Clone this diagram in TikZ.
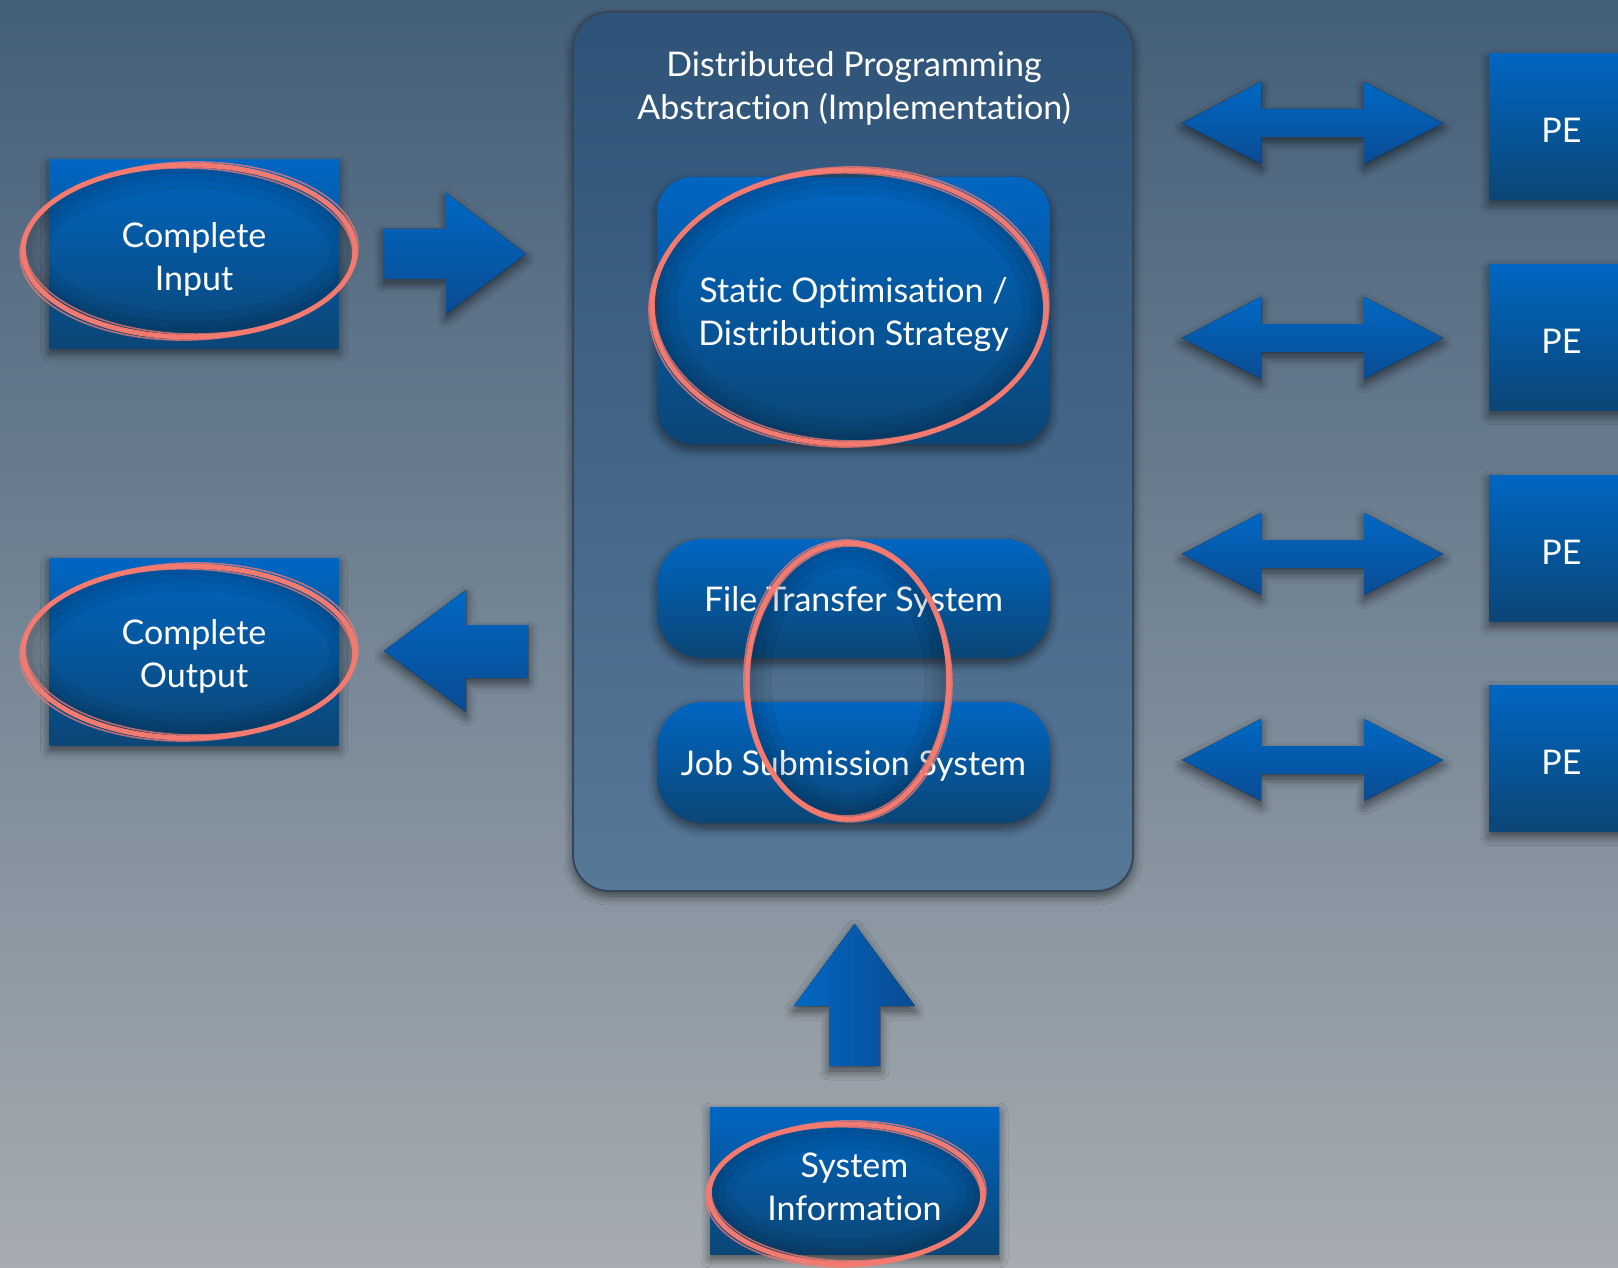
\documentclass[tikz,border=0pt]{standalone}
\usepackage{fontspec}
\setmainfont{Lato}[Ligatures=NoCommon]
\usetikzlibrary{shadows.blur}
\definecolor{bgtop}{HTML}{445F79}
\definecolor{bgbot}{HTML}{A6ACB1}
\definecolor{btop}{HTML}{0066C2}
\definecolor{bbot}{HTML}{0B4676}
\definecolor{atop}{HTML}{0068C4}
\definecolor{abot}{HTML}{0A4B92}
\definecolor{scrib}{HTML}{F47A70}
\definecolor{ctop}{HTML}{2E5378}
\definecolor{cbot}{HTML}{587898}
\definecolor{cline}{HTML}{37475A}
\tikzset{
  shad/.style={blur shadow={shadow blur steps=10, shadow xshift=0pt, shadow yshift=-5pt, shadow blur radius=9pt, shadow opacity=55}},
  bluebox/.style={shad, top color=btop, bottom color=bbot, inner sep=0pt, text=white, align=center},
  lbl/.style={font=\fontsize{34}{43}\selectfont},
  blockarrow/.style={shad, top color=atop, bottom color=abot},
  scribble/.style={draw=scrib, line width=5pt},
  scribthin/.style={draw=scrib, line width=1.6pt, opacity=0.75},
  scribshade/.style={draw=black, opacity=0.06},
}
\newcommand\scribbleat[3]{%
  \draw[scribshade, line width=8pt] (#1) ellipse [x radius=#2-5, y radius=#3-5];
  \draw[scribshade, line width=16pt] (#1) ellipse [x radius=#2-8, y radius=#3-8];
  \draw[scribshade, line width=26pt] (#1) ellipse [x radius=#2-12, y radius=#3-12];
  \draw[scribble] (#1) ellipse [x radius=#2, y radius=#3];
  \draw[scribthin, rotate around={1.5:(#1)}] (#1) ellipse [x radius=#2+3, y radius=#3+3];
  \draw[scribthin, rotate around={-1.5:(#1)}] (#1) ellipse [x radius=#2-2, y radius=#3-3];
}
\begin{document}
\begin{tikzpicture}[x=1pt,y=-1pt]
\useasboundingbox (0,0) rectangle (1618,1268);
\fill[top color=bgtop, bottom color=bgbot] (0,0) rectangle (1618,1268);

% container
\node[shad, draw=cline, line width=2pt, top color=ctop, bottom color=cbot, rounded corners=36pt,
      minimum width=560pt, minimum height=879pt, inner sep=0pt] (dpa) at (853,451.5) {};
\node[text=white, align=center, lbl] (title) at (854,88) {Distributed Programming\\Abstraction (Implementation)};

% inner boxes
\node[bluebox, rounded corners=36pt, minimum width=393pt, minimum height=267pt] (stat) at (853.5,310.5) {};
\node[bluebox, rounded corners=46pt, minimum width=393pt, minimum height=119pt] (fts) at (853.5,598.5) {};
\node[bluebox, rounded corners=46pt, minimum width=393pt, minimum height=121pt] (jss) at (853.5,762.5) {};

% left and bottom boxes
\node[bluebox, minimum width=289pt, minimum height=188pt] (inp) at (194,254) {};
\node[bluebox, minimum width=289pt, minimum height=187pt] (outp) at (194,651.5) {};
\node[bluebox, minimum width=289pt, minimum height=147pt] (sysi) at (854.5,1180.5) {};

% PE boxes
\foreach \n/\y in {1/126.5, 2/337.5, 3/548, 4/758.5}{
  \node[bluebox, minimum width=145pt, minimum height=146pt] (pe\n) at (1561.5,\y) {};
  \node[text=white, lbl] (pet\n) at (1561.5,\y+4) {PE};
}

\coordinate (e1) at (189,251);
\coordinate (e2) at (189,652);
\coordinate (e3) at (849,307);
\coordinate (e4) at (848,681);
\coordinate (e5) at (846,1194);

% labels
\node[text=white, align=center, lbl] (inpt) at (194,259) {Complete\\Input};
\node[text=white, align=center, lbl] (outpt) at (194,656.5) {Complete\\Output};
\node[text=white, align=center, lbl] (statt) at (853.5,315) {Static Optimisation /\\Distribution Strategy};
\node[text=white, lbl] (ftst) at (853.5,602) {File Transfer System};
\node[text=white, lbl] (jsst) at (853.5,766) {Job Submission System};
\node[text=white, align=center, lbl] (sysit) at (854.5,1187) {System\\Information};

% block arrows
\fill[blockarrow] (383,229) -- (446,229) -- (446,193) -- (526,254) -- (446,314) -- (446,279) -- (383,279) -- cycle;
\fill[blockarrow] (528,625) -- (466,625) -- (466,590) -- (384,651) -- (466,712) -- (466,678) -- (528,678) -- cycle;
\fill[shad, left color=atop, right color=abot] (829,1066) -- (829,1006) -- (794,1006) -- (854.5,924) -- (915,1006) -- (880,1006) -- (880,1066) -- cycle;
\foreach \c in {123, 338, 554, 760}{
  \fill[blockarrow] (1182,\c) -- (1261,\c-41) -- (1261,\c-14) -- (1364,\c-14) -- (1364,\c-41) -- (1443,\c)
     -- (1364,\c+41) -- (1364,\c+14) -- (1261,\c+14) -- (1261,\c+41) -- cycle;
}

\scribbleat{e1}{166}{86}
\scribbleat{e2}{166}{86}
\scribbleat{e3}{197}{137}
\scribbleat{e4}{101}{138}
\scribbleat{e5}{137}{70}
\end{tikzpicture}
\end{document}
